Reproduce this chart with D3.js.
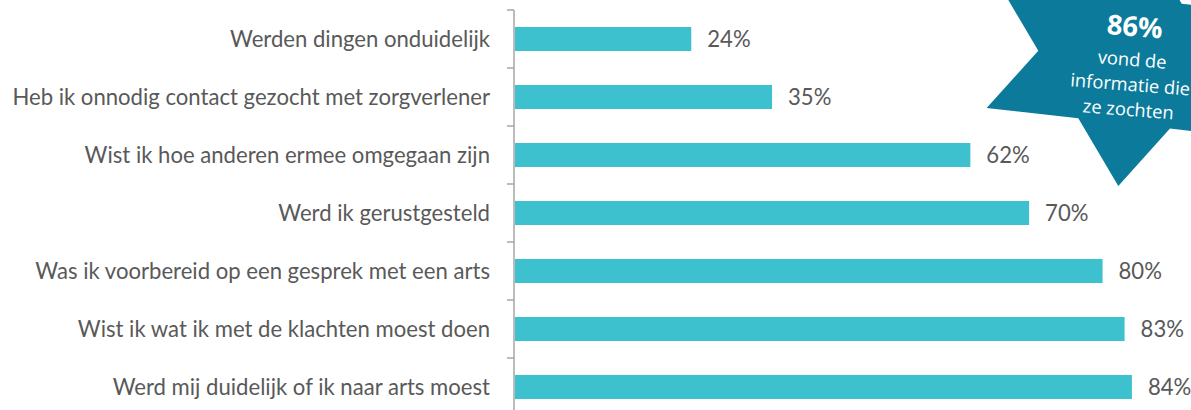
<!DOCTYPE html>
<html>
<head>
<meta charset="utf-8">
<script src="https://cdn.jsdelivr.net/npm/d3@7"></script>
<style>
  html, body { margin: 0; padding: 0; background: #ffffff; }
  svg { display: block; }
  text { font-family: Lato, "Open Sans", sans-serif; }
</style>
</head>
<body>
<svg id="chart" width="1191" height="410"></svg>
<script>
// ---- data ----
const categories = [
  "Werden dingen onduidelijk",
  "Heb ik onnodig contact gezocht met zorgverlener",
  "Wist ik hoe anderen ermee omgegaan zijn",
  "Werd ik gerustgesteld",
  "Was ik voorbereid op een gesprek met een arts",
  "Wist ik wat ik met de klachten moest doen",
  "Werd mij duidelijk of ik naar arts moest"
];
const values = [24, 35, 62, 70, 80, 83, 84];
const calloutValue = "86%";
const calloutLines = ["vond de", "informatie die", "ze zochten"];

// ---- layout ----
const axisX = 514;
const svg = d3.select("#chart");

const x = d3.scaleLinear().domain([0, 90]).range([axisX + 1, axisX + 1 + 661]);
const y = d3.scaleBand().domain(categories).range([10, 416])
  .paddingInner(0.586).paddingOuter(0.293);
const yOuter = d3.scaleBand().domain(categories).range([10, 416]).padding(0);

const barColor = "#3ec1cf";
const textColor = "#595959";
const axisColor = "#a6a6a6";

// bars
svg.append("g").selectAll("rect")
  .data(values)
  .join("rect")
  .attr("x", x(0))
  .attr("y", (d, i) => y(categories[i]))
  .attr("width", d => x(d) - x(0))
  .attr("height", y.bandwidth())
  .attr("fill", barColor);

// axis
const axisG = svg.append("g").attr("transform", `translate(${axisX},0)`);
axisG.append("line")
  .attr("x1", 0).attr("x2", 0)
  .attr("y1", yOuter.range()[0]).attr("y2", yOuter.range()[1])
  .attr("stroke", axisColor).attr("stroke-width", 1.5);
const boundaries = categories.map(c => yOuter(c)).concat([yOuter.range()[1]]);
axisG.selectAll("line.tick")
  .data(boundaries)
  .join("line")
  .attr("class", "tick")
  .attr("x1", -7).attr("x2", 0)
  .attr("y1", d => d).attr("y2", d => d)
  .attr("stroke", axisColor).attr("stroke-width", 1.5);

const labelAxis = d3.axisLeft(y).tickSize(0).tickPadding(24);
const lg = svg.append("g").attr("transform", `translate(${axisX},0)`).call(labelAxis);
lg.select(".domain").remove();
lg.selectAll("text")
  .attr("fill", textColor)
  .style("font-family", "Lato, 'Open Sans', sans-serif");

// fit font size so the longest label spans the reference width
let fs = 20;
lg.selectAll("text").style("font-size", fs + "px");
let maxLen = 0;
lg.selectAll("text").each(function() { maxLen = Math.max(maxLen, this.getComputedTextLength()); });
fs = fs * 478 / maxLen;
lg.selectAll("text").style("font-size", fs + "px").attr("dy", "0.34em");

// value labels
svg.append("g").selectAll("text")
  .data(values)
  .join("text")
  .attr("x", d => x(d) + 16)
  .attr("y", (d, i) => y(categories[i]) + y.bandwidth() / 2)
  .attr("dy", "0.36em")
  .attr("fill", textColor)
  .style("font-size", fs + "px")
  .text(d => d + "%");

// ---- callout star (hexagram built from centre + two basis vectors) ----
const starCenter = [1130, 61];
const va = [-91.7, -10.3], vb = [-51.7, 57.3];
const vc = [vb[0] - va[0], vb[1] - va[1]];
const inner = [va, vb, vc, [-va[0], -va[1]], [-vb[0], -vb[1]], [-vc[0], -vc[1]]];
const pts = [];
for (let i = 0; i < 6; i++) {
  const p = inner[i], q = inner[(i + 1) % 6];
  pts.push([starCenter[0] + p[0], starCenter[1] + p[1]]);
  pts.push([starCenter[0] + p[0] + q[0], starCenter[1] + p[1] + q[1]]);
}
svg.append("path")
  .attr("d", d3.line()(pts) + "Z")
  .attr("fill", "#0c7b9b");

const tg = svg.append("g").attr("transform", "translate(1131,75) rotate(4.5)");
const big = tg.append("text")
  .attr("x", 0).attr("y", -39)
  .attr("text-anchor", "middle")
  .attr("fill", "#ffffff")
  .style("font-family", "'Open Sans', sans-serif")
  .style("font-size", "26px").style("font-weight", "bold")
  .text(calloutValue);
const lines = tg.selectAll("text.line")
  .data(calloutLines)
  .join("text")
  .attr("class", "line")
  .attr("x", 0)
  .attr("y", (d, i) => -9 + i * 25)
  .attr("text-anchor", "middle")
  .attr("fill", "#ffffff")
  .style("font-family", "'Open Sans', sans-serif")
  .style("font-size", "18px")
  .text(d => d);
// fit callout text widths to the reference
let lw = 0;
lines.filter((d, i) => i === 1).each(function() { lw = this.getComputedTextLength(); });
lines.style("font-size", (18 * 120 / lw) + "px");
let bw = big.node().getComputedTextLength();
big.style("font-size", (26 * 56 / bw) + "px");
</script>
</body>
</html>
